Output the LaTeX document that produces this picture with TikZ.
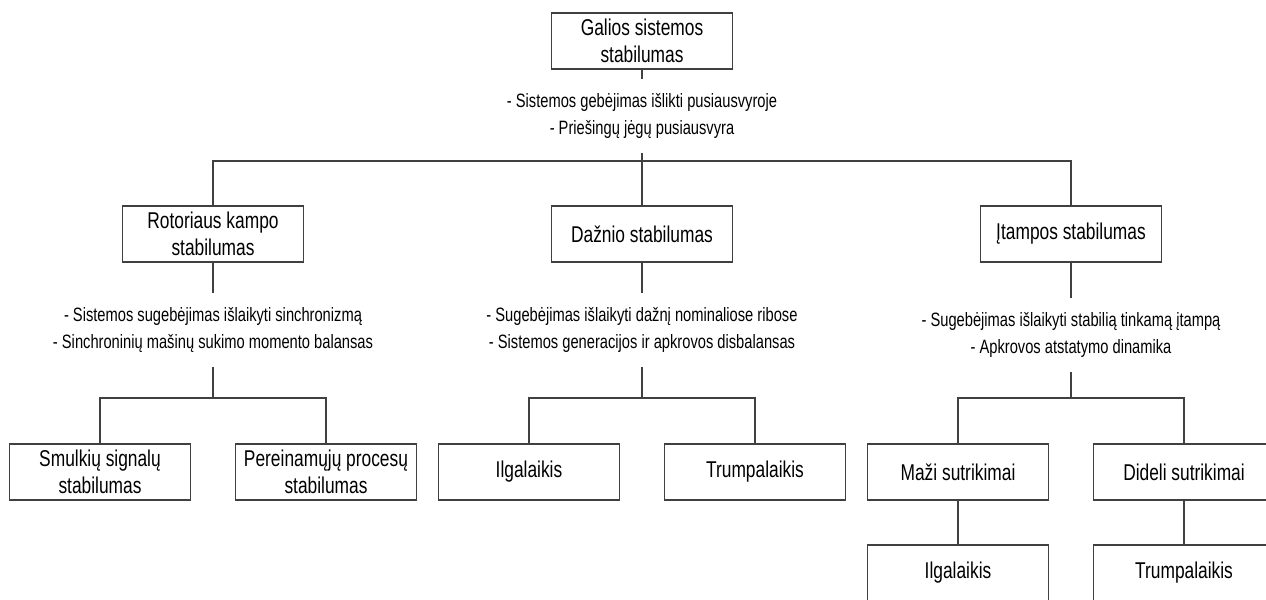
\documentclass[tikz,border=0pt]{standalone}
\usepackage{fontspec}
\setmainfont[FakeStretch=0.76]{Liberation Sans}

\begin{document}
\begin{tikzpicture}[x=0.02cm,y=-0.02cm,
    box/.style={draw=black!75, line width=0.6pt, rectangle, minimum width=3.62cm, minimum height=1.12cm, inner sep=0pt, align=center, font=\fontsize{13}{15.5}\selectfont},
    desc/.style={rectangle, minimum height=1.48cm, inner sep=0pt, align=center, font=\fontsize{11}{15.5}\selectfont},
    link/.style={draw=black!75, line width=0.6pt}]
            \useasboundingbox (0,0) rectangle (1266,599);
            \clip (0,0) rectangle (1266,599);

            % Top
            \node[box] (gss) at (642,41) {Galios sistemos\\stabilumas};
            \node[desc] (gssd) at (642,116) {- Sistemos gebėjimas išlikti pusiausvyroje\\- Priešingų jėgų pusiausvyra};
            \coordinate (j0) at (642,161);

            % Second row
            \node[box] (rotor) at (213,234) {Rotoriaus kampo\\stabilumas};
            \node[box] (freq) at (642,234) {Dažnio stabilumas};
            \node[box] (volt) at (1071,234) {Įtampos stabilumas};

            \node[desc] (rotord) at (213,330) {- Sistemos sugebėjimas išlaikyti sinchronizmą\\- Sinchroninių mašinų sukimo momento balansas};
            \node[desc] (freqd) at (642,330) {- Sugebėjimas išlaikyti dažnį nominaliose ribose\\- Sistemos generacijos ir apkrovos disbalansas};
            \node[desc] (voltd) at (1071,335) {- Sugebėjimas išlaikyti stabilią tinkamą įtampą\\- Apkrovos atstatymo dinamika};
            \coordinate (j1) at (213,398);
            \coordinate (j2) at (642,398);
            \coordinate (j3) at (1071,398);

            % Third row
            \node[box] (small) at (100,472) {Smulkių signalų\\stabilumas};
            \node[box] (trans) at (326,472) {Pereinamųjų procesų\\stabilumas};
            \node[box] (flong) at (529,472) {Ilgalaikis};
            \node[box] (fshort) at (755,472) {Trumpalaikis};
            \node[box] (vsmall) at (958,472) {Maži sutrikimai};
            \node[box] (vlarge) at (1184,472) {Dideli sutrikimai};

            % Fourth row
            \node[box] (vlong) at (958,573) {Ilgalaikis};
            \node[box] (vshort) at (1184,573) {Trumpalaikis};

            % Links
            \draw[link] (gss) -- (gssd);
            \draw[link] (gssd) -- (j0);
            \draw[link] (rotor.north) |- (j0) -| (volt.north);
            \draw[link] (j0) -- (freq);

            \draw[link] (rotor) -- (rotord);
            \draw[link] (rotord) -- (j1);
            \draw[link] (small.north) |- (j1) -| (trans.north);

            \draw[link] (freq) -- (freqd);
            \draw[link] (freqd) -- (j2);
            \draw[link] (flong.north) |- (j2) -| (fshort.north);

            \draw[link] (volt) -- (voltd);
            \draw[link] (voltd) -- (j3);
            \draw[link] (vsmall.north) |- (j3) -| (vlarge.north);
            \draw[link] (vsmall) -- (vlong);
            \draw[link] (vlarge) -- (vshort);
\end{tikzpicture}
\end{document}
